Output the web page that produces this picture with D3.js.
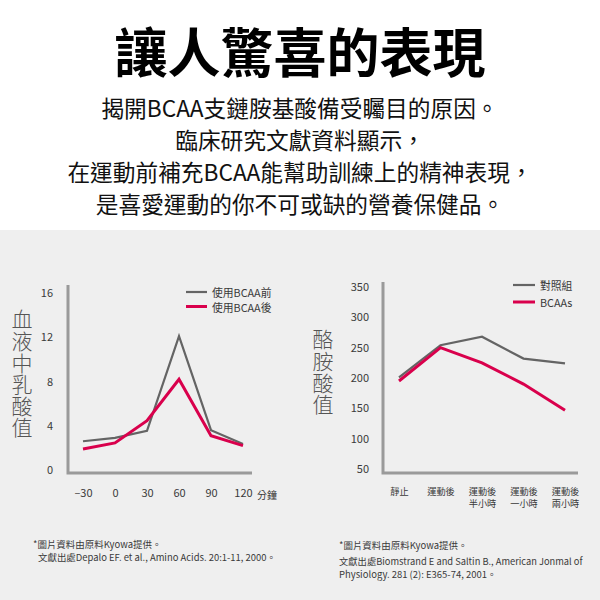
<!DOCTYPE html>
<html><head><meta charset="utf-8">
<script src="https://cdn.jsdelivr.net/npm/d3@7"></script>
<style>
html,body{margin:0;padding:0;background:#fff;}
svg{display:block;}
text{font-family:"Noto Sans CJK TC","Noto Sans",sans-serif;}
</style></head><body>
<svg id="c" width="600" height="600"></svg>
<script>
// ---- data ----
const title = "讓人驚喜的表現";
const subtitleLines = [
  "揭開BCAA支鏈胺基酸備受矚目的原因。",
  "臨床研究文獻資料顯示，",
  "在運動前補充BCAA能幫助訓練上的精神表現，",
  "是喜愛運動的你不可或缺的營養保健品。"
];
// chart 1: blood lactate
const lacTimes = [-30, 0, 30, 60, 90, 120];
const lacBefore = [2.6, 2.9, 3.55, 12.1, 3.6, 2.35];
const lacAfter = [1.9, 2.45, 4.45, 8.2, 3.1, 2.2];
const lacTicks = [0, 4, 8, 12, 16];
const lacSeries = ["使用BCAA前", "使用BCAA後"];
const lacTitle = "血液中乳酸值";
const lacUnit = "分鐘";
const lacNotes = ["*圖片資料由原料Kyowa提供。", "文獻出處Depalo EF. et al., Amino Acids. 20:1-11, 2000。"];
// chart 2: tyrosine
const tyrCats = ["靜止", "運動後", "運動後\n半小時", "運動後\n一小時", "運動後\n兩小時"];
const tyrControl = [201, 254, 268, 232, 224];
const tyrBCAA = [195, 250, 225, 190, 147];
const tyrTicks = [50, 100, 150, 200, 250, 300, 350];
const tyrSeries = ["對照組", "BCAAs"];
const tyrTitle = "酪胺酸值";
const tyrNotes = ["*圖片資料由原料Kyowa提供。", "文獻出處Biomstrand E and Saltin B., American Jonmal of", "Physiology. 281 (2): E365-74, 2001。"];

const GRAY = "#646464", RED = "#d9004c", AXIS = "#9a9a9a", TXT = "#3a3a3a";
const NOTEFONT = "Open Sans, Noto Sans CJK TC, sans-serif";

const svg = d3.select("#c");
svg.append("rect").attr("x",0).attr("y",0).attr("width",600).attr("height",230).attr("fill","#fff");
svg.append("rect").attr("x",0).attr("y",230).attr("width",600).attr("height",370).attr("fill","#efefef");

svg.append("text").attr("x",300).attr("y",50).attr("text-anchor","middle").attr("dominant-baseline","central")
  .attr("font-size",53).attr("font-weight",700).attr("fill","#000").text(title);
const subY = [107, 139, 171, 203];
subtitleLines.forEach((s,i)=>{
  svg.append("text").attr("x",300).attr("y",subY[i]).attr("text-anchor","middle").attr("dominant-baseline","central")
    .attr("font-size",22.7).attr("fill","#111").text(s);
});

// fit a footnote line so its visible text (without trailing 。) spans the given width
function note(g, s, x, y, w){
  const body = s.replace(/。$/,"");
  const t = g.append("text").attr("x",x).attr("y",y).attr("dominant-baseline","central")
    .attr("font-size",10).attr("fill",TXT).attr("font-family",NOTEFONT).text(body);
  const m = t.node().getComputedTextLength();
  t.attr("font-size", Math.max(8, Math.min(10.5, 10*w/m))).text(s);
}

const line = (x,y)=>d3.line().x(d=>x(d[0])).y(d=>y(d[1]));

function vtitle(g, s, x, y0){
  g.append("text").attr("x",x).attr("y",y0).attr("text-anchor","start")
    .attr("writing-mode","vertical-rl").style("writing-mode","vertical-rl")
    .attr("font-size",21).attr("font-weight",300).attr("letter-spacing",0.6).attr("fill","#555").text(s);
}

// ---- chart 1 ----
{
  const x = d3.scaleLinear().domain([-30,120]).range([83,243]);
  const y = d3.scaleLinear().domain([0,16]).range([470,293]);
  const g = svg.append("g");
  const ya = g.append("g").attr("transform","translate(68,0)")
    .call(d3.axisLeft(y).tickValues(lacTicks).tickSize(0).tickPadding(15).tickFormat(d3.format("d")));
  ya.select(".domain").remove();
  ya.selectAll("text").attr("font-size",11).attr("fill",TXT).attr("font-family","Liberation Sans, Arial, sans-serif");
  const xa = g.append("g").attr("transform","translate(0,473)")
    .call(d3.axisBottom(x).tickValues(lacTimes).tickSize(0).tickPadding(16).tickFormat(d=> d<0 ? "–"+Math.abs(d) : d));
  xa.select(".domain").remove();
  xa.selectAll("text").attr("font-size",11).attr("fill",TXT).attr("font-family","Liberation Sans, Arial, sans-serif");
  g.append("text").attr("x",267).attr("y",494).attr("text-anchor","middle").attr("dominant-baseline","central")
    .attr("font-size",10).attr("fill",TXT).text(lacUnit);
  g.append("path").attr("d",`M68,285V473H252`).attr("fill","none").attr("stroke",AXIS).attr("stroke-width",3);
  g.append("path").datum(lacTimes.map((t,i)=>[t,lacBefore[i]])).attr("d",line(x,y)).attr("fill","none").attr("stroke",GRAY).attr("stroke-width",2.2);
  g.append("path").datum(lacTimes.map((t,i)=>[t,lacAfter[i]])).attr("d",line(x,y)).attr("fill","none").attr("stroke",RED).attr("stroke-width",3);
  [[GRAY,2.2,292],[RED,3,306.5]].forEach((c,i)=>{
    g.append("line").attr("x1",186).attr("x2",207).attr("y1",c[2]).attr("y2",c[2]).attr("stroke",c[0]).attr("stroke-width",c[1]);
    g.append("text").attr("x",212).attr("y",c[2]).attr("dominant-baseline","central").attr("font-size",10.8).attr("fill",TXT).text(lacSeries[i]);
  });
  vtitle(g, lacTitle, 22, 309);
  note(g, lacNotes[0], 33, 544, 119);
  note(g, lacNotes[1], 38, 557, 229);
}

// ---- chart 2 ----
{
  const x = d3.scalePoint().domain(tyrCats).range([399,565]);
  const y = d3.scaleLinear().domain([50,350]).range([469,287]);
  const g = svg.append("g");
  const ya = g.append("g").attr("transform","translate(383,0)")
    .call(d3.axisLeft(y).tickValues(tyrTicks).tickSize(0).tickPadding(14));
  ya.select(".domain").remove();
  ya.selectAll("text").attr("font-size",11).attr("fill",TXT).attr("font-family","Liberation Sans, Arial, sans-serif");
  const xa = g.append("g").attr("transform","translate(0,473)")
    .call(d3.axisBottom(x).tickSize(0).tickPadding(0));
  xa.select(".domain").remove();
  xa.selectAll("text").attr("font-size",9.2).attr("fill",TXT).attr("dy",null).attr("y",null)
    .each(function(d){
      const t = d3.select(this).text("");
      d.split("\n").forEach((p,j)=>{
        t.append("tspan").attr("x",0).attr("y",17.5+j*12.5).attr("dominant-baseline","central").text(p);
      });
    });
  g.append("path").attr("d",`M383,282V473H578`).attr("fill","none").attr("stroke",AXIS).attr("stroke-width",3);
  g.append("path").datum(tyrCats.map((c,i)=>[c,tyrControl[i]])).attr("d",line(x,y)).attr("fill","none").attr("stroke",GRAY).attr("stroke-width",2.2);
  g.append("path").datum(tyrCats.map((c,i)=>[c,tyrBCAA[i]])).attr("d",line(x,y)).attr("fill","none").attr("stroke",RED).attr("stroke-width",3);
  [[GRAY,2.2,285],[RED,3,302]].forEach((c,i)=>{
    g.append("line").attr("x1",513).attr("x2",535).attr("y1",c[2]).attr("y2",c[2]).attr("stroke",c[0]).attr("stroke-width",c[1]);
    g.append("text").attr("x",540).attr("y",c[2]).attr("dominant-baseline","central").attr("font-size",10.8).attr("fill",TXT).text(tyrSeries[i]);
  });
  vtitle(g, tyrTitle, 323, 329);
  const ny = [545, 560.5, 574];
  note(g, tyrNotes[0], 339, ny[0], 119);
  note(g, tyrNotes[1], 339, ny[1], 244);
  note(g, tyrNotes[2], 339, ny[2], 148);
}
</script></body></html>
